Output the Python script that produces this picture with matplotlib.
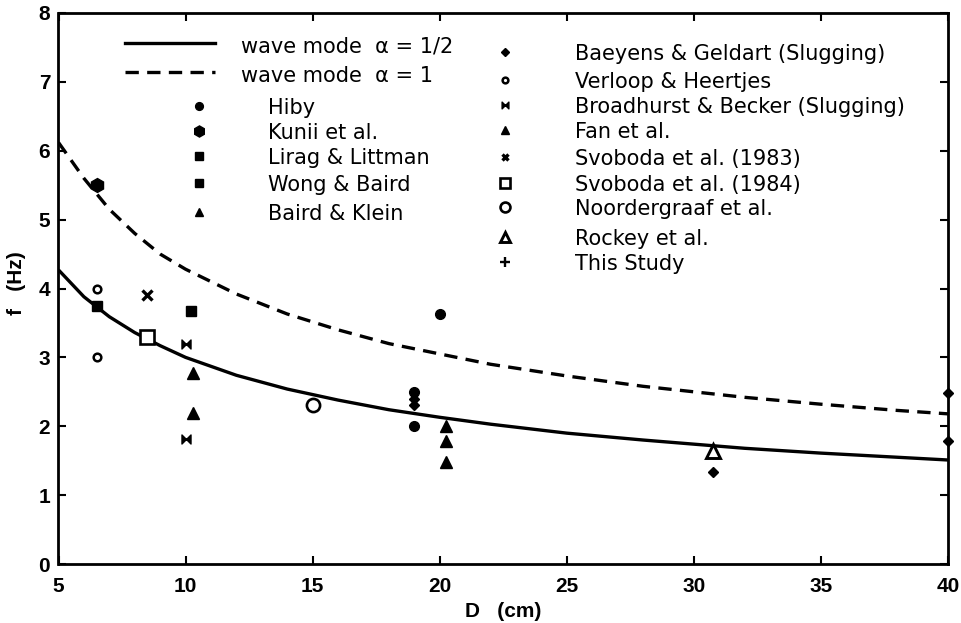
import matplotlib
matplotlib.use("Agg")
import matplotlib.pyplot as plt
from matplotlib.path import Path
import numpy as np

# ---- data ----
curve_D = [5, 6, 7, 8, 9, 10, 12, 14, 16, 18, 20, 22, 25, 28, 30, 32, 35, 38, 40]
wave_half = [4.27, 3.88, 3.59, 3.36, 3.17, 3.0, 2.74, 2.54, 2.38, 2.24, 2.13, 2.03,
             1.90, 1.80, 1.74, 1.68, 1.61, 1.55, 1.51]
wave_one = [6.12, 5.6, 5.15, 4.8, 4.5, 4.28, 3.92, 3.63, 3.4, 3.2, 3.05, 2.9,
            2.73, 2.58, 2.5, 2.42, 2.32, 2.23, 2.18]

hiby_D, hiby_f = [20.0, 19.0, 19.0], [3.63, 2.5, 2.0]
kunii_D, kunii_f = [6.5], [5.5]
lirag_D, lirag_f = [6.5], [3.75]
wong_D, wong_f = [10.2], [3.68]
bairdklein_D, bairdklein_f = [10.3, 10.3], [2.78, 2.19]
baeyens_D, baeyens_f = [19.0, 19.0, 30.75, 40.0, 40.0], [2.40, 2.31, 1.34, 2.48, 1.78]
verloop_D, verloop_f = [6.5, 6.5], [4.0, 3.0]
broad_D, broad_f = [10.0, 10.0], [3.2, 1.81]
fan_D, fan_f = [20.25, 20.25, 20.25], [2.01, 1.79, 1.48]
svo83_D, svo83_f = [8.5], [3.9]
svo84_D, svo84_f = [8.5], [3.3]
noord_D, noord_f = [15.0], [2.31]
rockey_D, rockey_f = [30.75], [1.64]
study_D, study_f = [], []

x_ticks = [5, 10, 15, 20, 25, 30, 35, 40]
y_ticks = [0, 1, 2, 3, 4, 5, 6, 7, 8]

left_labels = ["Hiby", "Kunii et al.", "Lirag & Littman", "Wong & Baird", "Baird & Klein"]
right_labels = ["Baeyens & Geldart (Slugging)", "Verloop & Heertjes",
                "Broadhurst & Becker (Slugging)", "Fan et al.", "Svoboda et al. (1983)",
                "Svoboda et al. (1984)", "Noordergraaf et al.", "Rockey et al.", "This Study"]

# ---- style ----
plt.rcParams['font.family'] = ['Liberation Sans', 'DejaVu Sans']
W, H = 962, 623
fig = plt.figure(figsize=(W / 100, H / 100), dpi=100)
axl, axr, axt, axb = 58.5, 948.0, 13.0, 564.0
ax = fig.add_axes([axl / W, 1 - axb / H, (axr - axl) / W, (axb - axt) / H])

bowtie = Path([(-1, -1), (-1, 1), (1, -1), (1, 1), (-1, -1)],
              [Path.MOVETO, Path.LINETO, Path.LINETO, Path.LINETO, Path.CLOSEPOLY])

K = 'black'
styles = {
    'hiby': dict(marker='o', ms=7, mfc=K, mec=K),
    'kunii': dict(marker='h', ms=10, mfc=K, mec=K),
    'lirag': dict(marker='s', ms=7.5, mfc=K, mec=K),
    'wong': dict(marker='s', ms=7.5, mfc=K, mec=K),
    'bk': dict(marker='^', ms=8, mfc=K, mec=K),
    'baey': dict(marker='D', ms=5.5, mfc=K, mec=K),
    'verl': dict(marker='o', ms=5.5, mfc='white', mec=K, mew=1.8),
    'broad': dict(marker=bowtie, ms=6.5, mfc=K, mec=K),
    'fan': dict(marker='^', ms=8, mfc=K, mec=K),
    'svo83': dict(marker='x', ms=6.5, mec=K, mew=2.4),
    'svo84': dict(marker='s', ms=10.5, mfc='white', mec=K, mew=1.9),
    'noord': dict(marker='o', ms=9.5, mfc='white', mec=K, mew=1.9),
    'rockey': dict(marker='^', ms=10, mfc='white', mec=K, mew=2.1),
    'study': dict(marker='+', ms=10, mec=K, mew=1.7),
}

ax.plot(curve_D, wave_half, color=K, lw=2.4, solid_capstyle='butt')
ax.plot(curve_D, wave_one, color=K, lw=2.4, linestyle=(0, (4, 2.5)))

series = [(hiby_D, hiby_f, 'hiby'), (kunii_D, kunii_f, 'kunii'), (lirag_D, lirag_f, 'lirag'),
          (wong_D, wong_f, 'wong'), (bairdklein_D, bairdklein_f, 'bk'),
          (baeyens_D, baeyens_f, 'baey'), (verloop_D, verloop_f, 'verl'),
          (broad_D, broad_f, 'broad'), (fan_D, fan_f, 'fan'), (svo83_D, svo83_f, 'svo83'),
          (svo84_D, svo84_f, 'svo84'), (noord_D, noord_f, 'noord'),
          (rockey_D, rockey_f, 'rockey'), (study_D, study_f, 'study')]
for d, f, key in series:
    ax.plot(d, f, linestyle='none', clip_on=False, zorder=5, **styles[key])

ax.set_xlim(5, 40)
ax.set_ylim(0, 8)
ax.set_xticks(x_ticks)
ax.set_yticks(y_ticks)
ax.tick_params(direction='in', length=6, width=1.5, top=True, right=True, labelsize=15)
ax.tick_params(axis='x', pad=9)
ax.tick_params(axis='y', pad=6)
for lab in ax.get_xticklabels() + ax.get_yticklabels():
    lab.set_fontweight('bold')
for s in ax.spines.values():
    s.set_linewidth(2.0)

ax.set_xlabel("D   (cm)", fontsize=15, fontweight='bold', labelpad=5)
ax.set_ylabel("f   (Hz)", fontsize=15, fontweight='bold')
ax.yaxis.set_label_coords(-0.036, 0.51)

# ---- hand-made legend (axes fraction coordinates) ----
def fx(px):
    return (px - axl) / (axr - axl)

def fy(py):
    return (axb - py) / (axb - axt)

T = ax.transAxes
fs = 15
lf = ['DejaVu Sans']
ax.plot([fx(125), fx(215)], [fy(43), fy(43)], color=K, lw=2.4, transform=T)
ax.plot([fx(125), fx(215)], [fy(72), fy(72)], color=K, lw=2.4,
        linestyle=(0, (4, 2.5)), transform=T)
ax.text(fx(241), fy(47), "wave mode  α = 1/2", fontsize=fs, family=lf, va='center', transform=T)
ax.text(fx(241), fy(76), "wave mode  α = 1", fontsize=fs, family=lf, va='center', transform=T)

left_keys = ['hiby', 'kunii', 'lirag', 'wong', 'bk']
left_y = [106, 131, 156, 183, 212]
for lab, key, py in zip(left_labels, left_keys, left_y):
    st = dict(styles[key])
    st['ms'] = st['ms'] * 0.8
    ax.plot([fx(199)], [fy(py)], transform=T, linestyle='none', **st)
    ax.text(fx(268), fy(py + 2), lab, fontsize=fs, family=lf, va='center', transform=T)

right_keys = ['baey', 'verl', 'broad', 'fan', 'svo83', 'svo84', 'noord', 'rockey', 'study']
right_y = [52, 80, 105, 130, 157, 183, 207, 237, 262]
for lab, key, py in zip(right_labels, right_keys, right_y):
    st = dict(styles[key])
    st['ms'] = st['ms'] * 0.75
    ax.plot([fx(505)], [fy(py)], transform=T, linestyle='none', **st)
    ax.text(fx(575), fy(py + 2), lab, fontsize=fs, family=lf, va='center', transform=T)

fig.savefig("out.png", dpi=100)
